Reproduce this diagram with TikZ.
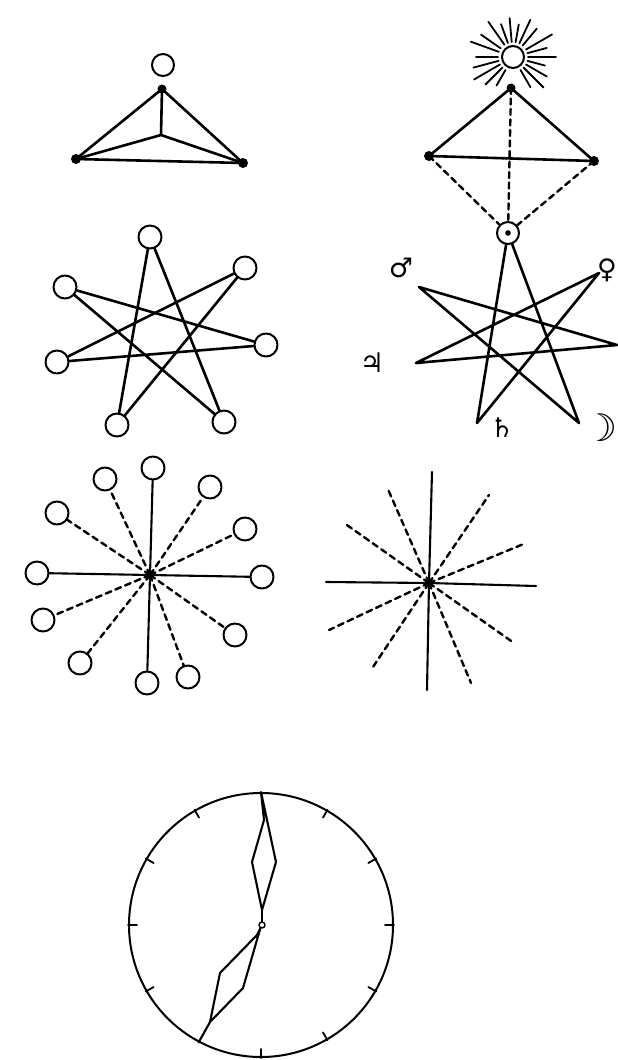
\documentclass[tikz,border=0pt]{standalone}
\usepackage{fontspec}
\newfontfamily\planetfont{DejaVu Sans}

\begin{document}
\begin{tikzpicture}[x=1pt,y=-1pt,line cap=round,line join=round,
  ring/.style={draw,circle,line width=2pt,minimum size=23pt,inner sep=0pt},
  bar/.style={line width=2.6pt},
  dashbar/.style={line width=2.4pt,dash pattern=on 6pt off 4.5pt},
  thinbar/.style={line width=2.1pt},
  planet/.style={font=\planetfont\fontsize{27}{27}\selectfont,inner sep=0pt}]
\useasboundingbox (0,0) rectangle (618,1060);
% triangle with point above
\node[ring,minimum size=22pt] (o1) at (163,65) {};
\coordinate (a1) at (162,89);
\coordinate (b1) at (76,159);
\coordinate (c1) at (243,163);
\coordinate (m1) at (161,135);
\draw[bar] (a1) -- (b1) -- (c1) -- cycle;
\draw[bar] (a1) -- (m1);
\draw[bar] (b1) -- (m1) -- (c1);
\fill (a1) circle (4.5pt);
\fill (b1) circle (5pt);
\fill (c1) circle (5pt);
% triangle under the sun
\node[ring,minimum size=22pt] (sun) at (513,57) {};
\foreach \a/\l in {0/28,15/20,30/30,50/22,65/26,80/18,95/24,110/20,125/28,145/24,
                   160/30,180/22,195/26,210/30,225/24,240/18,300/20,315/28,330/24,345/18}
  \draw[line width=1.8pt] (sun.\a) ++(\a:3pt) -- ++(\a:\l pt);
\coordinate (a2) at (511,88);
\coordinate (b2) at (429,156);
\coordinate (c2) at (594,161);
\node[ring,minimum size=22pt] (ss) at (508,233) {};
\fill (ss) circle (2.8pt);
\draw[bar] (a2) -- (b2) -- (c2) -- cycle;
\draw[dashbar] (a2) -- (ss);
\draw[dashbar] (b2) -- (ss);
\draw[dashbar] (c2) -- (ss);
\fill (a2) circle (4.5pt);
\fill (b2) circle (5pt);
\fill (c2) circle (5pt);
% seven pointed star with rings
\node[ring] (s0) at (150,237) {};
\node[ring] (s1) at (245,268) {};
\node[ring] (s2) at (266,345) {};
\node[ring] (s3) at (224,422) {};
\node[ring] (s4) at (117,425) {};
\node[ring] (s5) at (57,362) {};
\node[ring] (s6) at (65,287) {};
\foreach \i/\j in {0/3,3/6,6/2,2/5,5/1,1/4,4/0}
  \draw[bar] (s\i) -- (s\j);
% seven pointed star of the planets
\coordinate (p1) at (599,273);
\coordinate (p2) at (617,345);
\coordinate (p3) at (579,423);
\coordinate (p4) at (477,423);
\coordinate (p5) at (416,363);
\coordinate (p6) at (419,287);
\draw[bar] (ss) -- (p3) -- (p6) -- (p2) -- (p5) -- (p1) -- (p4) -- (ss);
\node[planet] (mars) at (401,268) {♂};
\node[planet] (venus) at (607,270) {♀};
\node[planet] (jupiter) at (372,363) {♃};
\node[planet] (saturn) at (502,428) {♄};
\node[planet,font=\planetfont\bfseries\fontsize{38}{38}\selectfont] (moon) at (601,428) {☽};
% twelve rays with rings
\coordinate (c5) at (150,575);
\foreach \x/\y/\k [count=\i] in {153/468/thinbar,105/479/dashbar,210/487/dashbar,57/513/dashbar,
                     245/529/dashbar,37/573/thinbar,262/577/thinbar,43/620/dashbar,
                     235/635/dashbar,80/663/dashbar,188/677/dashbar,147/683/thinbar}
{
  \node[ring] (r\i) at (\x,\y) {};
  \draw[\k] (c5) -- (r\i);
}
% twelve rays
\coordinate (c6) at (429,583);
\foreach \x/\y/\k [count=\i] in {432/472/thinbar,427/690/thinbar,326/582/thinbar,536/586/thinbar,
                     387/487/dashbar,489/495/dashbar,344/523/dashbar,526/543/dashbar,
                     329/630/dashbar,514/643/dashbar,371/670/dashbar,471/683/dashbar}
{
  \coordinate (e\i) at (\x,\y);
  \draw[\k] (c6) -- (e\i);
}
% clock
\node[draw,circle,line width=2pt,minimum size=264pt,inner sep=0pt] (dial) at (261,925) {};
\foreach \h in {1,...,6,8,9,10,11}
  \draw[line width=1.8pt] (dial.{90-30*\h}) -- ++({270-30*\h}:9pt);
\node[draw,circle,line width=1.4pt,minimum size=6pt,inner sep=0pt] (hub) at (262,925) {};
\coordinate (h1) at (264,820);
\coordinate (h2) at (252,862);
\coordinate (h3) at (262,910);
\coordinate (h4) at (276,862);
\draw[thinbar] (dial.north) -- (h1) -- (h2) -- (h3) -- (h4) -- cycle;
\draw[thinbar] (h3) -- (hub);
\coordinate (k1) at (257,935);
\coordinate (k2) at (220,973);
\coordinate (k3) at (210,1022);
\coordinate (k4) at (243,988);
\draw[thinbar] (hub) -- (k1) -- (k2) -- (k3) -- (k4) -- cycle;
\draw[thinbar] (k3) -- (dial.242);
\end{tikzpicture}
\end{document}
